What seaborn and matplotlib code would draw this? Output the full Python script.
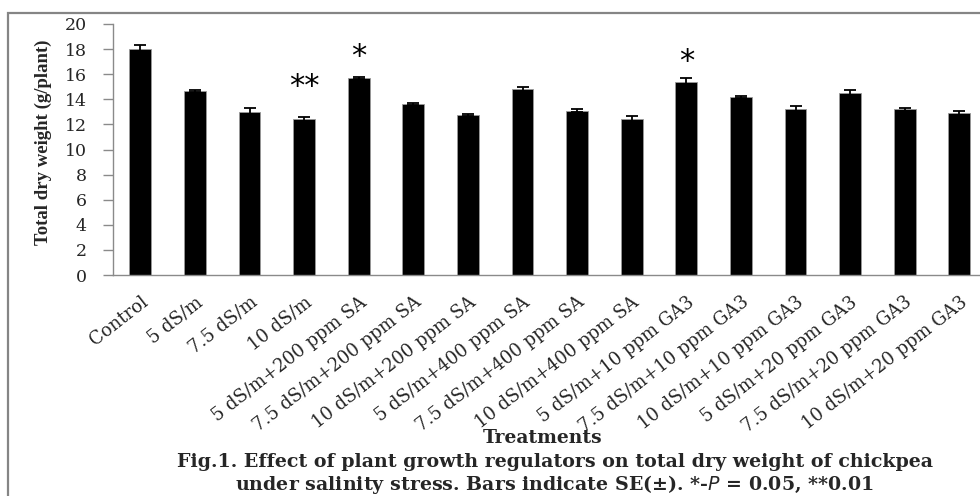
import matplotlib
matplotlib.use("Agg")
import matplotlib.pyplot as plt
from matplotlib.patches import Rectangle
import seaborn as sns
import pandas as pd
import numpy as np

treatments = [
    "Control", "5 dS/m", "7.5 dS/m", "10 dS/m",
    "5 dS/m+200 ppm SA", "7.5 dS/m+200 ppm SA", "10 dS/m+200 ppm SA",
    "5 dS/m+400 ppm SA", "7.5 dS/m+400 ppm SA", "10 dS/m+400 ppm SA",
    "5 dS/m+10 ppm GA3", "7.5 dS/m+10 ppm GA3", "10 dS/m+10 ppm GA3",
    "5 dS/m+20 ppm GA3", "7.5 dS/m+20 ppm GA3", "10 dS/m+20 ppm GA3",
]
dry_weight = [18.0, 14.7, 13.0, 12.45, 15.67, 13.63, 12.75, 14.8,
              13.09, 12.45, 15.35, 14.18, 13.25, 14.5, 13.2, 12.88]
std_error = [0.3, 0.08, 0.27, 0.17, 0.07, 0.1, 0.1, 0.15,
             0.1, 0.2, 0.35, 0.1, 0.22, 0.28, 0.1, 0.15]
significance = ["", "", "", "**", "*", "", "", "", "", "", "*", "", "", "", "", ""]
star_height = [0, 0, 0, 15.0, 17.4, 0, 0, 0, 0, 0, 17.0, 0, 0, 0, 0, 0]
y_ticks = [0, 2, 4, 6, 8, 10, 12, 14, 16, 18, 20]

sns.set_theme(style="white")
plt.rcParams["font.family"] = ["DejaVu Serif"]

df = pd.DataFrame({"Treatment": treatments, "Weight": dry_weight, "SE": std_error})

fig = plt.figure(figsize=(9.8, 4.96), dpi=100)
ax = fig.add_axes([113 / 980, 221 / 496, 873.6 / 980, 251 / 496])

sns.barplot(data=df, x="Treatment", y="Weight", color="black", width=0.4,
            edgecolor="#9a9a9a", linewidth=0.6, saturation=1, ax=ax, errorbar=None)

pos = np.arange(len(treatments))
ax.errorbar(pos, df["Weight"], yerr=df["SE"], fmt="none", ecolor="black",
            elinewidth=1.3, capsize=4, capthick=1.3, zorder=3)

for i, (mark, h) in enumerate(zip(significance, star_height)):
    if mark:
        ax.text(pos[i], h, mark, ha="center", va="center", fontsize=22,
                family="DejaVu Sans", color="black")

ax.set_xlim(-0.5, len(treatments) - 0.5)
ax.set_ylim(0, 20)
ax.set_yticks(y_ticks)
ax.set_yticklabels([str(v) for v in y_ticks], fontsize=12.5)

ax.set_xticks(pos)
ax.set_xticklabels(treatments, rotation=38, ha="right", rotation_mode="anchor",
                   fontsize=13)
ax.set_xticks(np.arange(-0.5, len(treatments), 1.0), minor=True)
ax.tick_params(axis="x", which="major", length=0, pad=13)
ax.tick_params(axis="x", which="minor", length=5, width=1, color="#8a8a8a", direction="out")
ax.tick_params(axis="y", length=7, width=1, color="#8a8a8a", direction="out", pad=12, left=True)

for side in ("top", "right"):
    ax.spines[side].set_visible(False)
for side in ("left", "bottom"):
    ax.spines[side].set_color("#8a8a8a")
    ax.spines[side].set_linewidth(1)

ax.set_xlabel("")
ax.set_ylabel("Total dry weight (g/plant)", fontsize=13.5, fontweight="bold",
              family="Liberation Serif")
ax.yaxis.set_label_coords(-0.07, 0.528)

fig.text(543 / 980, 1 - 438 / 496, "Treatments", ha="center", va="center",
         fontsize=13.5, fontweight="bold")
fig.text(555 / 980, 1 - 462 / 496,
         "Fig.1. Effect of plant growth regulators on total dry weight of chickpea",
         ha="center", va="center", fontsize=13.7, fontweight="bold")
fig.text(554 / 980, 1 - 485 / 496,
         r"under salinity stress. Bars indicate SE(±). *-$\it{P}$ = 0.05, **0.01",
         ha="center", va="center", fontsize=13.7, fontweight="bold")

fig.patches.append(Rectangle((7.5 / 980, -0.1), 1.2, 0.1 + (496 - 12.5) / 496,
                             transform=fig.transFigure, fill=False,
                             edgecolor="#858585", linewidth=1.6))

fig.savefig("out.png", dpi=100)
